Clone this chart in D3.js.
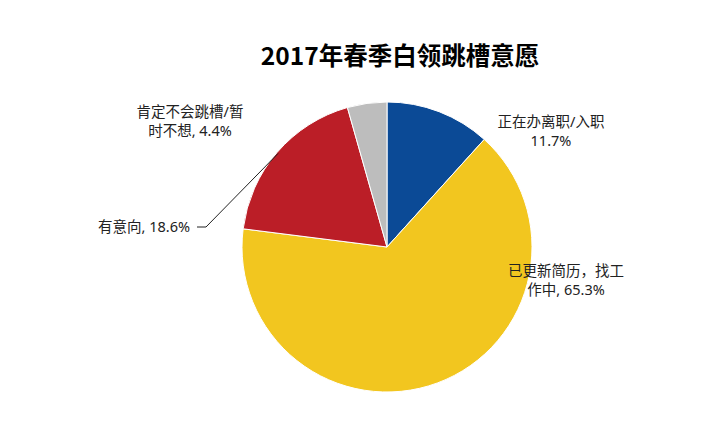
<!DOCTYPE html>
<html>
<head>
<meta charset="utf-8">
<script src="https://cdn.jsdelivr.net/npm/d3@7"></script>
<style>
  body { margin: 0; background: #fff; }
  text { font-family: "Noto Sans", "Noto Sans CJK SC", sans-serif; }
</style>
</head>
<body>
<script>
var w = 726,
    h = 436;

var categories = ["正在办离职/入职", "已更新简历，找工作中", "有意向", "肯定不会跳槽/暂时不想"];
var values = [11.7, 65.3, 18.6, 4.4];
var colors = ["#0B4A96", "#F2C61F", "#BB1E27", "#BDBDBD"];
var labelLines = [
  ["正在办离职/入职", "11.7%"],
  ["已更新简历，找工", "作中, 65.3%"],
  ["有意向, 18.6%"],
  ["肯定不会跳槽/暂", "时不想, 4.4%"]
];

var cx = 387, cy = 247, r = 145;

var svg = d3.select("body").append("svg")
    .attr("width", w)
    .attr("height", h);

svg.append("text")
    .attr("x", 400)
    .attr("y", 65)
    .attr("text-anchor", "middle")
    .style("font-family", "'Noto Sans CJK SC', sans-serif")
    .style("font-size", "24.5px")
    .style("font-weight", "bold")
    .text("2017年春季白领跳槽意愿");

var pie = d3.pie().sort(null).value(function(d) { return d; });
var arc = d3.arc().innerRadius(0).outerRadius(r);
var arcs = pie(values);

var g = svg.append("g").attr("transform", "translate(" + cx + "," + cy + ")");

g.selectAll("path").data(arcs).enter().append("path")
    .attr("d", arc)
    .attr("fill", function(d, i) { return colors[i]; })
    .attr("stroke", "#fff")
    .attr("stroke-width", 1);

// label positions
var labelPos = [
  {x: 551, y: 127, anchor: "middle"},
  {x: 566, y: 276, anchor: "middle"},
  {x: 190, y: 232, anchor: "end"},
  {x: 190, y: 117, anchor: "middle"}
];

// one text per line so the lines don't share a box
labelLines.forEach(function(lines, i) {
  var p = labelPos[i];
  lines.forEach(function(l, j) {
    svg.append("text")
      .attr("x", p.x)
      .attr("y", p.y + j * 19)
      .attr("text-anchor", p.anchor)
      .style("font-size", "14.5px")
      .attr("fill", "#222")
      .text(l);
  });
});

// leader line for the red slice
var mid = (arcs[2].startAngle + arcs[2].endAngle) / 2;
var edge = [cx + Math.sin(mid) * r * 0.99, cy - Math.cos(mid) * r * 0.99];
svg.append("polyline")
    .attr("points", [[197, 227], [206, 227], edge].map(function(p) { return p.join(","); }).join(" "))
    .attr("fill", "none")
    .attr("stroke", "#222")
    .attr("stroke-width", 1);
</script>
</body>
</html>
